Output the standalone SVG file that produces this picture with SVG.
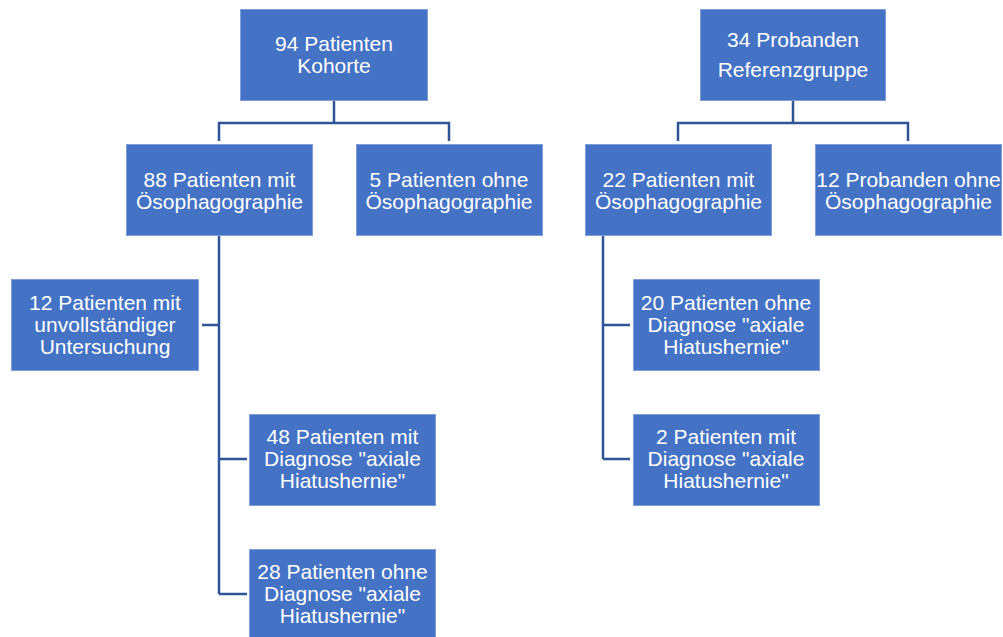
<svg xmlns="http://www.w3.org/2000/svg" width="1003" height="637" viewBox="0 0 1003 637">
<style>
.box{fill:#4472C4;stroke:#7F9ED8;stroke-width:1}
.t{font-family:"Liberation Sans",Arial,sans-serif;font-size:21px;fill:#FFFFFF;text-anchor:middle}
.c{fill:none;stroke:#2F5597;stroke-width:2.5}
</style>
<rect width="1003" height="637" fill="#FFFFFF"/>
<g id="connectors">
<path class="c" d="M334 101 V123 M219 141 V123 H449 V141"/>
<path class="c" d="M793 101 V123 M678 141 V123 H908 V141"/>
<path class="c" d="M219 236 V594 M202 325 H219 M219 459 H247 M219 594 H247"/>
<path class="c" d="M603 236 V459 M603 325 H630 M603 459 H630"/>
</g>
<g id="n94"><rect class="box" x="240.5" y="9.5" width="187" height="91"/>
<text class="t" x="334" y="51">94 Patienten</text><text class="t" x="334" y="73">Kohorte</text></g>
<g id="n88"><rect class="box" x="126.5" y="144.5" width="186" height="91"/>
<text class="t" x="219.5" y="186.5">88 Patienten mit</text><text class="t" x="219.5" y="208.5">Ösophagographie</text></g>
<g id="n5"><rect class="box" x="356.5" y="144.5" width="186" height="91"/>
<text class="t" x="449" y="186.5">5 Patienten ohne</text><text class="t" x="449" y="208.5">Ösophagographie</text></g>
<g id="n12pat"><rect class="box" x="11.5" y="279.5" width="187" height="91"/>
<text class="t" x="105" y="310">12 Patienten mit</text><text class="t" x="105" y="332">unvollständiger</text><text class="t" x="105" y="354">Untersuchung</text></g>
<g id="n48"><rect class="box" x="249.5" y="414.5" width="186" height="91"/>
<text class="t" x="342.5" y="444">48 Patienten mit</text><text class="t" x="342.5" y="466">Diagnose "axiale</text><text class="t" x="342.5" y="488">Hiatushernie"</text></g>
<g id="n28"><rect class="box" x="249.5" y="549.5" width="186" height="91"/>
<text class="t" x="342.5" y="579">28 Patienten ohne</text><text class="t" x="342.5" y="601">Diagnose "axiale</text><text class="t" x="342.5" y="623">Hiatushernie"</text></g>
<g id="n34"><rect class="box" x="700.5" y="9.5" width="185" height="91"/>
<text class="t" x="793" y="47">34 Probanden</text><text class="t" x="793" y="77">Referenzgruppe</text></g>
<g id="n22"><rect class="box" x="585.5" y="144.5" width="186" height="91"/>
<text class="t" x="678.5" y="186.5">22 Patienten mit</text><text class="t" x="678.5" y="208.5">Ösophagographie</text></g>
<g id="n12prob"><rect class="box" x="815.5" y="144.5" width="186" height="91"/>
<text class="t" x="908.5" y="186.5">12 Probanden ohne</text><text class="t" x="908.5" y="208.5">Ösophagographie</text></g>
<g id="n20"><rect class="box" x="633.5" y="279.5" width="186" height="91"/>
<text class="t" x="726" y="310">20 Patienten ohne</text><text class="t" x="726" y="332">Diagnose "axiale</text><text class="t" x="726" y="354">Hiatushernie"</text></g>
<g id="n2"><rect class="box" x="633.5" y="414.5" width="186" height="91"/>
<text class="t" x="726" y="444">2 Patienten mit</text><text class="t" x="726" y="466">Diagnose "axiale</text><text class="t" x="726" y="488">Hiatushernie"</text></g>
</svg>
